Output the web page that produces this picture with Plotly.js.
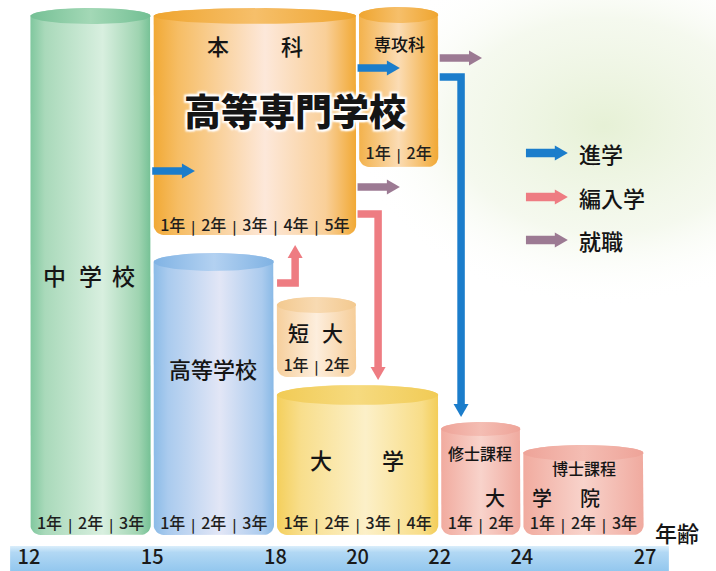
<!DOCTYPE html>
<html><head><meta charset="utf-8">
<script src="https://cdn.plot.ly/plotly-3.0.1.min.js"></script>
<style>html,body{margin:0;padding:0;background:#fff}#chart{width:716px;height:571px}</style>
</head><body><div id="chart"></div>
<script>
// ---------------- data ----------------
const schools    = ['中学校','本科','専攻科','高等学校','短大','大学','修士課程','博士課程'];
const startAge   = [12, 15, 20, 15, 18, 18, 22, 24];
const years      = [3, 5, 2, 3, 2, 4, 2, 3];
const topLevel   = [563, 563, 564, 318, 274, 186, 149, 126];
const baseLevel  = [36, 336, 404, 36, 194, 36, 36, 36];
const yearRow    = [46, 344, 416, 46, 204, 46, 46, 46];
const ageTicks   = [12, 15, 18, 20, 22, 24, 27];

const labelText  = ['中','学','校','本','科','高等専門学校','専攻科','高等学校','短','大','大','学','修士課程','博士課程','大','学','院','年齢'];
const labelX     = [12.61,13.49,14.29,16.60,18.40,18.48,21.01,16.48,18.55,19.38,19.11,20.86,22.98,25.51,23.35,24.49,25.66,27.78];
const labelY     = [296,296,296,526,526,461,528,203,239,239,112,112,118,103,74,74,74,39];

const arrowKind  = ['進学','進学','進学','編入学','編入学','就職','就職'];
const arrowX     = [[15.0,16.04],[20.0,21.03],[22.0,22.52,22.52],[18.04,18.48,18.48],[20.0,20.50,20.50],[20.0,21.03],[22.0,23.03]];
const arrowY     = [[400,400],[503,503],[494,494,154],[288,288,326],[357,357,191],[384,384],[513,513]];

const legendText = ['進学','編入学','就職'];
const legendX    = [24.10, 25.12];
const legendY    = [418, 374, 331];

// ---------------- styles ----------------
const PXA = 41.07;           // pixels per year on the x axis (for pixel-sized styling)
const FONT = '"Noto Sans CJK JP", "Noto Sans", sans-serif';
const arrowColor = {'進学':'#1b7dcb','編入学':'#ee7c82','就職':'#9c7a93'};
const bodyScale = {
  '中学校':[[0,'#80c79e'],[0.12,'#a9d9ba'],[0.6,'#d8efdf'],[0.9,'#9fd4b1'],[1,'#75c195']],
  '本科':[[0,'#f1a935'],[0.12,'#f6bd64'],[0.55,'#fde8da'],[0.85,'#f9cf98'],[1,'#f1a935']],
  '専攻科':[[0,'#f3b24c'],[0.5,'#fbdcb4'],[1,'#f1a935']],
  '高等学校':[[0,'#8bbbe7'],[0.12,'#aacbee'],[0.55,'#e2e6f6'],[0.9,'#abcbee'],[1,'#88b9e6']],
  '短大':[[0,'#f6cf9c'],[0.5,'#fdeedd'],[1,'#f6cd98']],
  '大学':[[0,'#f4cf5c'],[0.15,'#f8de8c'],[0.55,'#fcf0c8'],[0.9,'#f8dd88'],[1,'#f3cd58']],
  '修士課程':[[0,'#f1ab9f'],[0.5,'#f8d3cb'],[1,'#f0aa9f']],
  '博士課程':[[0,'#f1ab9f'],[0.5,'#f8d3cb'],[1,'#f0aa9f']]
};
const capScale = {
  '中学校':[[0,'#75c095'],[0.5,'#a3d8b6'],[1,'#72bf93']],
  '本科':[[0,'#efa52f'],[0.5,'#f6bf6a'],[1,'#efa52f']],
  '専攻科':[[0,'#efa52f'],[0.5,'#f6bf6a'],[1,'#efa52f']],
  '高等学校':[[0,'#80b3e4'],[0.5,'#b3d1f1'],[1,'#7fb2e3']],
  '短大':[[0,'#f3c98f'],[0.5,'#f8dab2'],[1,'#f3c98f']],
  '大学':[[0,'#f1cb55'],[0.5,'#f6da7f'],[1,'#f1cb55']],
  '修士課程':[[0,'#eea398'],[0.5,'#f4bdb3'],[1,'#eea398']],
  '博士課程':[[0,'#eea398'],[0.5,'#f4bdb3'],[1,'#eea398']]
};
const capHalf = {'中学校':8,'本科':8,'専攻科':8,'高等学校':9,'短大':8,'大学':10,'修士課程':7,'博士課程':8};
const labelSize = [23,23,23,22,22,37,17,22,21,21,22,22,16,16,20,20,20,22];
const labelBold = [false,false,false,false,false,true,false,false,false,false,false,false,false,false,false,false,false,false];

const traces = [];

// soft green background glow (decoration)
(function(){
  const xs=[], ys=[];
  for(let k=0;k<=60;k++){const t=k*2*Math.PI/60; xs.push(26.0+ 250/PXA*Math.cos(t)); ys.push(445+180*Math.sin(t));}
  traces.push({type:'scatter',mode:'lines',x:xs,y:ys,fill:'toself',line:{width:0,color:'rgba(0,0,0,0)'},
    fillgradient:{type:'radial',colorscale:[[0,'rgba(222,236,200,0.75)'],[0.6,'rgba(235,243,222,0.5)'],[1,'rgba(255,255,255,0)']]},hoverinfo:'skip'});
})();

// age bar
(function(){
  const x0 = ageTicks[0]-0.46, x1 = ageTicks[ageTicks.length-1]+0.58;
  traces.push({type:'scatter',mode:'lines',x:[x0,x1,x1,x0,x0],y:[0,0,25,25,0],fill:'toself',
    line:{width:0,color:'rgba(0,0,0,0)'},
    fillgradient:{type:'vertical',colorscale:[[0,'#93c7ee'],[0.75,'#b2d8f4'],[1,'#dbeefb']]},hoverinfo:'skip'});
})();

// cylinders
function cylinder(i){
  const name = schools[i];
  const inset = 0.035;
  const x0 = startAge[i]+inset, x1 = startAge[i]+years[i]-inset;
  const yt = topLevel[i], yb = baseLevel[i];
  const eb = capHalf[name];
  const yc = yt-eb;
  const r = 10, rx = r/PXA, ry = r;
  const xs=[x0], ys=[yc];
  for(let k=0;k<=8;k++){const a=Math.PI+k*(Math.PI/2)/8; xs.push(x0+rx+rx*Math.cos(a)); ys.push(yb+ry+ry*Math.sin(a));}
  for(let k=0;k<=8;k++){const a=1.5*Math.PI+k*(Math.PI/2)/8; xs.push(x1-rx+rx*Math.cos(a)); ys.push(yb+ry+ry*Math.sin(a));}
  xs.push(x1); ys.push(yc);
  const xm=(x0+x1)/2, a=(x1-x0)/2;
  for(let k=0;k<=40;k++){const t=k*Math.PI/40; xs.push(xm+a*Math.cos(t)); ys.push(yc+eb*Math.sin(t));}
  xs.push(x0); ys.push(yc);
  traces.push({type:'scatter',mode:'lines',x:xs,y:ys,fill:'toself',line:{width:0,color:'rgba(0,0,0,0)'},
    fillgradient:{type:'horizontal',colorscale:bodyScale[name]},hoverinfo:'skip'});
  const cx=[], cy=[];
  for(let k=0;k<=60;k++){const t=k*2*Math.PI/60; cx.push(xm+a*Math.cos(t)); cy.push(yc+eb*Math.sin(t));}
  traces.push({type:'scatter',mode:'lines',x:cx,y:cy,fill:'toself',line:{width:0,color:'rgba(0,0,0,0)'},
    fillgradient:{type:'horizontal',colorscale:capScale[name]},hoverinfo:'skip'});
}
[0,1,2,3,4,5,6,7].forEach(cylinder);

// arrows
function arrow(xs, ys, color, w){
  const n = xs.length;
  const xa=xs[n-2], ya=ys[n-2], xb=xs[n-1], yb=ys[n-1];
  let dx=(xb-xa)*PXA, dy=(yb-ya);
  const len=Math.hypot(dx,dy); dx/=len; dy/=len;
  const L=13, W=7.5;
  const bx=xb-L*dx/PXA, by=yb-L*dy;
  const sx=xb-(L-2)*dx/PXA, sy=yb-(L-2)*dy;
  const nx=-dy, ny=dx;
  traces.push({type:'scatter',mode:'lines',x:xs.slice(0,n-1).concat([sx]),y:ys.slice(0,n-1).concat([sy]),
    line:{color:color,width:w},hoverinfo:'skip'});
  traces.push({type:'scatter',mode:'lines',x:[xb,bx+W*nx/PXA,bx-W*nx/PXA,xb],y:[yb,by+W*ny,by-W*ny,yb],
    fill:'toself',fillcolor:color,line:{width:0,color:color},hoverinfo:'skip'});
}
arrowKind.forEach((k,i)=>arrow(arrowX[i],arrowY[i],arrowColor[k],7.5));
legendText.forEach((k,i)=>arrow(legendX,[legendY[i],legendY[i]],arrowColor[k],8.5));

// year labels
const yx=[], yy=[], yt=[], sx=[], sy=[];
schools.forEach((s,i)=>{
  for(let k=0;k<years[i];k++){yx.push(startAge[i]+k+0.5); yy.push(yearRow[i]); yt.push((k+1)+'年');}
  for(let k=1;k<years[i];k++){sx.push(startAge[i]+k); sy.push(yearRow[i]-2);}
});
traces.push({type:'scatter',mode:'text',x:yx,y:yy,text:yt,textposition:'middle center',
  textfont:{family:FONT,size:16,color:'#1e1e1e',weight:500},hoverinfo:'skip'});
traces.push({type:'scatter',mode:'text',x:sx,y:sy,text:sx.map(()=>'|'),textposition:'middle center',
  textfont:{family:FONT,size:13,color:'#222',weight:700},hoverinfo:'skip'});

// annotations
const annotations = labelText.map((t,i)=>({
  x:labelX[i], y:labelY[i], xref:'x', yref:'y', text: t, showarrow:false,
  font:{family:FONT,size:labelSize[i],color:'#151515', weight: labelBold[i]?900:500,
        shadow: labelBold[i]?'2px 2px 2px #fff, -2px -2px 2px #fff, 2px -2px 2px #fff, -2px 2px 2px #fff':'none'},
  xanchor:'center', yanchor:'middle'
}));
legendText.forEach((t,i)=>annotations.push({x:legendX[1]+0.22,y:legendY[i],xref:'x',yref:'y',text:t,showarrow:false,
  xanchor:'left',yanchor:'middle',font:{family:FONT,size:22,color:'#151515',weight:500}}));

const layout = {
  width:716, height:571, margin:{l:0,r:0,t:0,b:0},
  paper_bgcolor:'#ffffff', plot_bgcolor:'rgba(0,0,0,0)', showlegend:false,
  xaxis:{range:[12-29/PXA, 12+687/PXA], tickvals:ageTicks, ticktext:ageTicks.map(String),
    ticklabelposition:'inside', ticks:'', showgrid:false, zeroline:false, showline:false,
    tickfont:{family:FONT,size:20,color:'#1a1a1a',weight:500}, fixedrange:true},
  yaxis:{range:[0,571], visible:false, fixedrange:true},
  annotations:annotations
};
Plotly.newPlot('chart', traces, layout, {staticPlot:true, displayModeBar:false});
</script>
</body></html>
